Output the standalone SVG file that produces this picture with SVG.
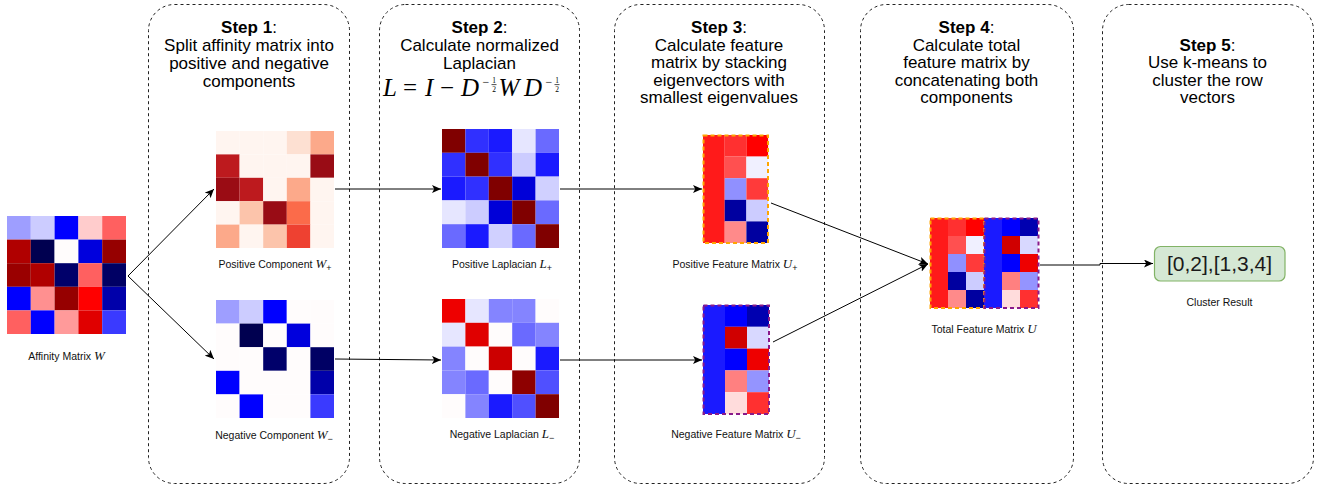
<svg xmlns="http://www.w3.org/2000/svg" width="1325" height="487" viewBox="0 0 1325 487">
  <style>
    .hdr { font-family: "Liberation Sans", Arial, sans-serif; font-size: 17px; text-anchor: middle; fill: #000; }
    .hdr .b { font-weight: bold; }
    .cap { font-family: "Liberation Sans", Arial, sans-serif; font-size: 10.5px; text-anchor: middle; fill: #111; }
    .m { font-family: "Liberation Serif", "Times New Roman", serif; font-style: italic; }
    .sub { font-family: "Liberation Sans", Arial, sans-serif; font-size: 9px; }
    .fx { font-family: "Liberation Serif", "Times New Roman", serif; font-size: 25px; fill: #000; }
    .fm { font-family: "Liberation Serif", "Times New Roman", serif; font-size: 12px; fill: #000; }
    .fs { font-family: "Liberation Serif", "Times New Roman", serif; font-size: 7.5px; fill: #000; text-anchor: middle; }
    .panel { fill: none; stroke: #222; stroke-width: 1; stroke-dasharray: 3 3; }
    .edge { fill: none; stroke: #000; stroke-width: 1; marker-end: url(#arr); }
    .pos { fill: none; stroke: #ffa500; stroke-width: 2; stroke-dasharray: 4 3; }
    .neg { fill: none; stroke: #8a1a8a; stroke-width: 2; stroke-dasharray: 4 3; }
  </style>
  <defs>
    <marker id="arr" markerUnits="userSpaceOnUse" markerWidth="9" markerHeight="8" refX="9" refY="4" orient="auto">
      <path d="M0,0 L9,4 L0,8 L2.2,4 z" fill="#000"/>
    </marker>
  </defs>
  <rect width="1325" height="487" fill="#fff"/>

  <!-- step panels -->
  <g id="panels">
    <rect class="panel" x="148.5" y="4.5" width="201" height="479" rx="26"/>
    <rect class="panel" x="379.5" y="4.5" width="200" height="479" rx="26"/>
    <rect class="panel" x="614.5" y="4.5" width="210" height="479" rx="26"/>
    <rect class="panel" x="860.5" y="4.5" width="213" height="479" rx="26"/>
    <rect class="panel" x="1102.5" y="4.5" width="211" height="479" rx="26"/>
  </g>

  <!-- step headers -->
  <g id="step1-title" class="hdr">
    <text x="249" y="33"><tspan class="b">Step 1</tspan>:</text>
    <text x="249" y="51">Split affinity matrix into</text>
    <text x="249" y="69">positive and negative</text>
    <text x="249" y="87">components</text>
  </g>
  <g id="step2-title" class="hdr">
    <text x="479.5" y="33"><tspan class="b">Step 2</tspan>:</text>
    <text x="479.5" y="51">Calculate normalized</text>
    <text x="479.5" y="69">Laplacian</text>
  </g>
  <!-- L = I - D^{-1/2} W D^{-1/2} -->
  <g id="step2-formula">
    <text class="fx" x="383" y="96" font-style="italic">L</text>
    <text class="fx" x="403" y="96">=</text>
    <text class="fx" x="425" y="96" font-style="italic">I</text>
    <text class="fx" x="440" y="96">−</text>
    <text class="fx" x="461" y="96" font-style="italic">D</text>
    <text class="fm" x="482.5" y="85.5">−</text>
    <text class="fs" x="494" y="83">1</text>
    <line x1="491.5" y1="84.6" x2="496.5" y2="84.6" stroke="#000" stroke-width="0.7"/>
    <text class="fs" x="494" y="91.5">2</text>
    <text class="fx" x="498.5" y="96" font-style="italic">W</text>
    <text class="fx" x="524" y="96" font-style="italic">D</text>
    <text class="fm" x="545.5" y="85.5">−</text>
    <text class="fs" x="557" y="83">1</text>
    <line x1="554.5" y1="84.6" x2="559.5" y2="84.6" stroke="#000" stroke-width="0.7"/>
    <text class="fs" x="557" y="91.5">2</text>
  </g>
  <g id="step3-title" class="hdr">
    <text x="719" y="33"><tspan class="b">Step 3</tspan>:</text>
    <text x="719" y="50.5">Calculate feature</text>
    <text x="719" y="68">matrix by stacking</text>
    <text x="719" y="85.5">eigenvectors with</text>
    <text x="719" y="103">smallest eigenvalues</text>
  </g>
  <g id="step4-title" class="hdr">
    <text x="966.5" y="33"><tspan class="b">Step 4</tspan>:</text>
    <text x="966.5" y="50.5">Calculate total</text>
    <text x="966.5" y="68">feature matrix by</text>
    <text x="966.5" y="85.5">concatenating both</text>
    <text x="966.5" y="103">components</text>
  </g>
  <g id="step5-title" class="hdr">
    <text x="1207.5" y="50.5"><tspan class="b">Step 5</tspan>:</text>
    <text x="1207.5" y="68">Use k-means to</text>
    <text x="1207.5" y="85.5">cluster the row</text>
    <text x="1207.5" y="103">vectors</text>
  </g>

  <!-- connectors -->
  <g id="connectors">
    <path class="edge" d="M128,276 L214,189"/>
    <path class="edge" d="M128,276 L214,359"/>
    <path class="edge" d="M335,189 L441,189"/>
    <path class="edge" d="M335,359 L441,360"/>
    <path class="edge" d="M560,189 L702,189"/>
    <path class="edge" d="M560,360 L702,360"/>
    <path class="edge" d="M771,203 L928,264"/>
    <path class="edge" d="M773,342 L928,264"/>
    <path class="edge" d="M1040,265 L1100,265 L1100,263.5 L1153,263.5"/>
  </g>

  <!-- affinity matrix W -->
  <g id="affinity">
    <g transform="translate(7,216) scale(23.8,23.6)">
      <rect x="0" y="0" width="1" height="1" fill="#9e9eff"/>
      <rect x="1" y="0" width="1" height="1" fill="#ccccff"/>
      <rect x="2" y="0" width="1" height="1" fill="#0000ff"/>
      <rect x="3" y="0" width="1" height="1" fill="#ffcccc"/>
      <rect x="4" y="0" width="1" height="1" fill="#ff6060"/>
      <rect x="0" y="1" width="1" height="1" fill="#b00000"/>
      <rect x="1" y="1" width="1" height="1" fill="#000050"/>
      <rect x="2" y="1" width="1" height="1" fill="#fffcfc"/>
      <rect x="3" y="1" width="1" height="1" fill="#0000dd"/>
      <rect x="4" y="1" width="1" height="1" fill="#960000"/>
      <rect x="0" y="2" width="1" height="1" fill="#9a0000"/>
      <rect x="1" y="2" width="1" height="1" fill="#b00000"/>
      <rect x="2" y="2" width="1" height="1" fill="#00006a"/>
      <rect x="3" y="2" width="1" height="1" fill="#ff6060"/>
      <rect x="4" y="2" width="1" height="1" fill="#000064"/>
      <rect x="0" y="3" width="1" height="1" fill="#0000ff"/>
      <rect x="1" y="3" width="1" height="1" fill="#ff9090"/>
      <rect x="2" y="3" width="1" height="1" fill="#960000"/>
      <rect x="3" y="3" width="1" height="1" fill="#ff0000"/>
      <rect x="4" y="3" width="1" height="1" fill="#0000aa"/>
      <rect x="0" y="4" width="1" height="1" fill="#ff6060"/>
      <rect x="1" y="4" width="1" height="1" fill="#0000ff"/>
      <rect x="2" y="4" width="1" height="1" fill="#ff9a9a"/>
      <rect x="3" y="4" width="1" height="1" fill="#e00000"/>
      <rect x="4" y="4" width="1" height="1" fill="#3a3aff"/>
    </g>
    <text class="cap" x="66.5" y="360">Affinity Matrix <tspan class="m" font-size="13">W</tspan></text>
  </g>

  <!-- positive component W+ -->
  <g id="pos-component">
    <g transform="translate(216,131) scale(23.6,23.4)">
      <rect x="0" y="0" width="1" height="1" fill="#fff5f0"/>
      <rect x="1" y="0" width="1" height="1" fill="#fff5f0"/>
      <rect x="2" y="0" width="1" height="1" fill="#fff5f0"/>
      <rect x="3" y="0" width="1" height="1" fill="#fde0d2"/>
      <rect x="4" y="0" width="1" height="1" fill="#fca98a"/>
      <rect x="0" y="1" width="1" height="1" fill="#bd1a1e"/>
      <rect x="1" y="1" width="1" height="1" fill="#fff5f0"/>
      <rect x="2" y="1" width="1" height="1" fill="#fff5f0"/>
      <rect x="3" y="1" width="1" height="1" fill="#fff5f0"/>
      <rect x="4" y="1" width="1" height="1" fill="#990c15"/>
      <rect x="0" y="2" width="1" height="1" fill="#9a0c14"/>
      <rect x="1" y="2" width="1" height="1" fill="#bd1a1e"/>
      <rect x="2" y="2" width="1" height="1" fill="#fff5f0"/>
      <rect x="3" y="2" width="1" height="1" fill="#fca98a"/>
      <rect x="4" y="2" width="1" height="1" fill="#fff5f0"/>
      <rect x="0" y="3" width="1" height="1" fill="#fff5f0"/>
      <rect x="1" y="3" width="1" height="1" fill="#fcc4ab"/>
      <rect x="2" y="3" width="1" height="1" fill="#990c15"/>
      <rect x="3" y="3" width="1" height="1" fill="#fb6b4a"/>
      <rect x="4" y="3" width="1" height="1" fill="#fff5f0"/>
      <rect x="0" y="4" width="1" height="1" fill="#fca98a"/>
      <rect x="1" y="4" width="1" height="1" fill="#fff5f0"/>
      <rect x="2" y="4" width="1" height="1" fill="#fcc4ab"/>
      <rect x="3" y="4" width="1" height="1" fill="#ee4131"/>
      <rect x="4" y="4" width="1" height="1" fill="#fff5f0"/>
    </g>
    <text class="cap" x="275" y="267.5">Positive Component <tspan class="m" font-size="13">W</tspan><tspan class="sub" dy="3">+</tspan></text>
  </g>

  <!-- negative component W- -->
  <g id="neg-component">
    <g transform="translate(216,300) scale(23.6,23.6)">
      <rect x="0" y="0" width="1" height="1" fill="#9e9eff"/>
      <rect x="1" y="0" width="1" height="1" fill="#ccccff"/>
      <rect x="2" y="0" width="1" height="1" fill="#0000ff"/>
      <rect x="3" y="0" width="1" height="1" fill="#fffcfc"/>
      <rect x="4" y="0" width="1" height="1" fill="#fffcfc"/>
      <rect x="0" y="1" width="1" height="1" fill="#fffcfc"/>
      <rect x="1" y="1" width="1" height="1" fill="#000050"/>
      <rect x="2" y="1" width="1" height="1" fill="#fffcfc"/>
      <rect x="3" y="1" width="1" height="1" fill="#0000dd"/>
      <rect x="4" y="1" width="1" height="1" fill="#fffcfc"/>
      <rect x="0" y="2" width="1" height="1" fill="#fffcfc"/>
      <rect x="1" y="2" width="1" height="1" fill="#fffcfc"/>
      <rect x="2" y="2" width="1" height="1" fill="#00006a"/>
      <rect x="3" y="2" width="1" height="1" fill="#fffcfc"/>
      <rect x="4" y="2" width="1" height="1" fill="#000064"/>
      <rect x="0" y="3" width="1" height="1" fill="#0000ff"/>
      <rect x="1" y="3" width="1" height="1" fill="#fffcfc"/>
      <rect x="2" y="3" width="1" height="1" fill="#fffcfc"/>
      <rect x="3" y="3" width="1" height="1" fill="#fffcfc"/>
      <rect x="4" y="3" width="1" height="1" fill="#0000aa"/>
      <rect x="0" y="4" width="1" height="1" fill="#fffcfc"/>
      <rect x="1" y="4" width="1" height="1" fill="#0000ff"/>
      <rect x="2" y="4" width="1" height="1" fill="#fffcfc"/>
      <rect x="3" y="4" width="1" height="1" fill="#fffcfc"/>
      <rect x="4" y="4" width="1" height="1" fill="#3a3aff"/>
    </g>
    <text class="cap" x="274" y="438.5">Negative Component <tspan class="m" font-size="13">W</tspan><tspan class="sub" dy="3">−</tspan></text>
  </g>

  <!-- positive Laplacian L+ -->
  <g id="pos-laplacian">
    <g transform="translate(442,129) scale(23.4,23.8)">
      <rect x="0" y="0" width="1" height="1" fill="#800000"/>
      <rect x="1" y="0" width="1" height="1" fill="#3030ff"/>
      <rect x="2" y="0" width="1" height="1" fill="#1a1aff"/>
      <rect x="3" y="0" width="1" height="1" fill="#e6e6ff"/>
      <rect x="4" y="0" width="1" height="1" fill="#6a6aff"/>
      <rect x="0" y="1" width="1" height="1" fill="#3030ff"/>
      <rect x="1" y="1" width="1" height="1" fill="#800000"/>
      <rect x="2" y="1" width="1" height="1" fill="#3030ff"/>
      <rect x="3" y="1" width="1" height="1" fill="#ccccff"/>
      <rect x="4" y="1" width="1" height="1" fill="#1a1aff"/>
      <rect x="0" y="2" width="1" height="1" fill="#1a1aff"/>
      <rect x="1" y="2" width="1" height="1" fill="#3030ff"/>
      <rect x="2" y="2" width="1" height="1" fill="#800000"/>
      <rect x="3" y="2" width="1" height="1" fill="#0000d8"/>
      <rect x="4" y="2" width="1" height="1" fill="#d0d0ff"/>
      <rect x="0" y="3" width="1" height="1" fill="#e6e6ff"/>
      <rect x="1" y="3" width="1" height="1" fill="#ccccff"/>
      <rect x="2" y="3" width="1" height="1" fill="#0000d8"/>
      <rect x="3" y="3" width="1" height="1" fill="#800000"/>
      <rect x="4" y="3" width="1" height="1" fill="#6a6aff"/>
      <rect x="0" y="4" width="1" height="1" fill="#6a6aff"/>
      <rect x="1" y="4" width="1" height="1" fill="#1a1aff"/>
      <rect x="2" y="4" width="1" height="1" fill="#d0d0ff"/>
      <rect x="3" y="4" width="1" height="1" fill="#6a6aff"/>
      <rect x="4" y="4" width="1" height="1" fill="#800000"/>
    </g>
    <text class="cap" x="502" y="267.5">Positive Laplacian <tspan class="m" font-size="13">L</tspan><tspan class="sub" dy="3">+</tspan></text>
  </g>

  <!-- negative Laplacian L- -->
  <g id="neg-laplacian">
    <g transform="translate(442,299) scale(23.4,23.8)">
      <rect x="0" y="0" width="1" height="1" fill="#ee0000"/>
      <rect x="1" y="0" width="1" height="1" fill="#e6e6ff"/>
      <rect x="2" y="0" width="1" height="1" fill="#8484ff"/>
      <rect x="3" y="0" width="1" height="1" fill="#8484ff"/>
      <rect x="4" y="0" width="1" height="1" fill="#fffcfc"/>
      <rect x="0" y="1" width="1" height="1" fill="#e6e6ff"/>
      <rect x="1" y="1" width="1" height="1" fill="#e00000"/>
      <rect x="2" y="1" width="1" height="1" fill="#fffcfc"/>
      <rect x="3" y="1" width="1" height="1" fill="#6a6aff"/>
      <rect x="4" y="1" width="1" height="1" fill="#8484ff"/>
      <rect x="0" y="2" width="1" height="1" fill="#8484ff"/>
      <rect x="1" y="2" width="1" height="1" fill="#fffcfc"/>
      <rect x="2" y="2" width="1" height="1" fill="#cc0000"/>
      <rect x="3" y="2" width="1" height="1" fill="#fffcfc"/>
      <rect x="4" y="2" width="1" height="1" fill="#1a1aff"/>
      <rect x="0" y="3" width="1" height="1" fill="#8484ff"/>
      <rect x="1" y="3" width="1" height="1" fill="#6a6aff"/>
      <rect x="2" y="3" width="1" height="1" fill="#fffcfc"/>
      <rect x="3" y="3" width="1" height="1" fill="#8e0000"/>
      <rect x="4" y="3" width="1" height="1" fill="#5050ff"/>
      <rect x="0" y="4" width="1" height="1" fill="#fffcfc"/>
      <rect x="1" y="4" width="1" height="1" fill="#8484ff"/>
      <rect x="2" y="4" width="1" height="1" fill="#1a1aff"/>
      <rect x="3" y="4" width="1" height="1" fill="#5050ff"/>
      <rect x="4" y="4" width="1" height="1" fill="#800000"/>
    </g>
    <text class="cap" x="502" y="437.5">Negative Laplacian <tspan class="m" font-size="13">L</tspan><tspan class="sub" dy="3">−</tspan></text>
  </g>

  <!-- positive feature matrix U+ -->
  <g id="pos-feature">
    <g transform="translate(703,135) scale(21.7,21.6)">
      <rect x="0" y="0" width="1" height="5" fill="#ff1a1a"/>
      <rect x="1" y="0" width="1" height="1" fill="#ff3030"/>
      <rect x="2" y="0" width="1" height="1" fill="#ff0000"/>
      <rect x="1" y="1" width="1" height="1" fill="#ff5050"/>
      <rect x="2" y="1" width="1" height="1" fill="#f0f0ff"/>
      <rect x="1" y="2" width="1" height="1" fill="#9090ff"/>
      <rect x="2" y="2" width="1" height="1" fill="#ff3a3a"/>
      <rect x="1" y="3" width="1" height="1" fill="#0000a0"/>
      <rect x="2" y="3" width="1" height="1" fill="#ccccff"/>
      <rect x="1" y="4" width="1" height="1" fill="#ff8a8a"/>
      <rect x="2" y="4" width="1" height="1" fill="#0000a0"/>
    </g>
    <rect class="pos" x="703.5" y="135.5" width="64.5" height="107.5"/>
    <text class="cap" x="735" y="267.5">Positive Feature Matrix <tspan class="m" font-size="13">U</tspan><tspan class="sub" dy="3">+</tspan></text>
  </g>

  <!-- negative feature matrix U- -->
  <g id="neg-feature">
    <g transform="translate(703,305) scale(22,21.8)">
      <rect x="0" y="0" width="1" height="5" fill="#1a1aff"/>
      <rect x="1" y="0" width="1" height="1" fill="#0000ff"/>
      <rect x="2" y="0" width="1" height="1" fill="#0000b0"/>
      <rect x="1" y="1" width="1" height="1" fill="#d00000"/>
      <rect x="2" y="1" width="1" height="1" fill="#d8d8ff"/>
      <rect x="1" y="2" width="1" height="1" fill="#0000ff"/>
      <rect x="2" y="2" width="1" height="1" fill="#ee0000"/>
      <rect x="1" y="3" width="1" height="1" fill="#ff8080"/>
      <rect x="2" y="3" width="1" height="1" fill="#9494ff"/>
      <rect x="1" y="4" width="1" height="1" fill="#ffdcdc"/>
      <rect x="2" y="4" width="1" height="1" fill="#ff3030"/>
    </g>
    <rect class="neg" x="703.5" y="305.5" width="65.5" height="108.5"/>
    <text class="cap" x="736" y="437.5">Negative Feature Matrix <tspan class="m" font-size="13">U</tspan><tspan class="sub" dy="3">−</tspan></text>
  </g>

  <!-- total feature matrix U = [U+ | U-] -->
  <g id="total-feature">
    <g transform="translate(930,218) scale(18,18)">
      <rect x="0" y="0" width="1" height="5" fill="#ff1a1a"/>
      <rect x="1" y="0" width="1" height="1" fill="#ff3030"/>
      <rect x="2" y="0" width="1" height="1" fill="#ff0000"/>
      <rect x="1" y="1" width="1" height="1" fill="#ff5050"/>
      <rect x="2" y="1" width="1" height="1" fill="#f0f0ff"/>
      <rect x="1" y="2" width="1" height="1" fill="#9090ff"/>
      <rect x="2" y="2" width="1" height="1" fill="#ff3a3a"/>
      <rect x="1" y="3" width="1" height="1" fill="#0000a0"/>
      <rect x="2" y="3" width="1" height="1" fill="#ccccff"/>
      <rect x="1" y="4" width="1" height="1" fill="#ff8a8a"/>
      <rect x="2" y="4" width="1" height="1" fill="#0000a0"/>
      <rect x="3" y="0" width="1" height="5" fill="#1a1aff"/>
      <rect x="4" y="0" width="1" height="1" fill="#0000ff"/>
      <rect x="5" y="0" width="1" height="1" fill="#0000b0"/>
      <rect x="4" y="1" width="1" height="1" fill="#d00000"/>
      <rect x="5" y="1" width="1" height="1" fill="#d8d8ff"/>
      <rect x="4" y="2" width="1" height="1" fill="#0000ff"/>
      <rect x="5" y="2" width="1" height="1" fill="#ee0000"/>
      <rect x="4" y="3" width="1" height="1" fill="#ff8080"/>
      <rect x="5" y="3" width="1" height="1" fill="#9494ff"/>
      <rect x="4" y="4" width="1" height="1" fill="#ffdcdc"/>
      <rect x="5" y="4" width="1" height="1" fill="#ff3030"/>
    </g>
    <rect class="pos" x="930.5" y="218.5" width="53.5" height="89.5"/>
    <rect class="neg" x="984.5" y="218.5" width="54" height="89.5"/>
    <text class="cap" x="984" y="333">Total Feature Matrix <tspan class="m" font-size="13">U</tspan></text>
  </g>

  <!-- cluster result -->
  <g id="cluster-result">
    <rect x="1154.5" y="246.5" width="130.5" height="34.5" rx="6" fill="#d5e8d4" stroke="#82b366" stroke-width="1.2"/>
    <text x="1219.5" y="271" font-family="'Liberation Sans', Arial, sans-serif" font-size="21" text-anchor="middle" fill="#1a1a1a">[0,2],[1,3,4]</text>
    <text class="cap" x="1219.5" y="306">Cluster Result</text>
  </g>
</svg>
